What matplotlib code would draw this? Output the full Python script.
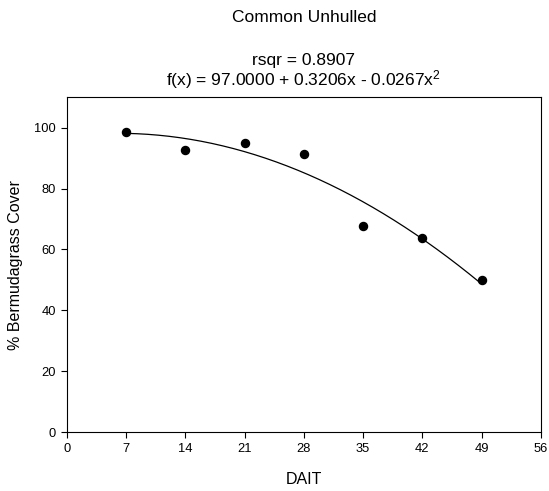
import matplotlib.pyplot as plt
import numpy as np

plt.rcParams['font.family'] = ['Liberation Sans', 'DejaVu Sans']
plt.rcParams['mathtext.fontset'] = 'custom'
plt.rcParams['mathtext.rm'] = 'Liberation Sans'
plt.rcParams['mathtext.it'] = 'Liberation Sans'

dait = np.array([7, 14, 21, 28, 35, 42, 49])
cover = np.array([98.7, 92.7, 95.1, 91.4, 67.7, 63.9, 50.1])
xticks = [0, 7, 14, 21, 28, 35, 42, 49, 56]
yticks = [0, 20, 40, 60, 80, 100]

# quadratic regression through the points
coef = np.polyfit(dait, cover, 2)
xs = np.linspace(dait.min(), dait.max(), 200)
ys = np.polyval(coef, xs)

W, H = 549, 491
fig = plt.figure(figsize=(W / 100, H / 100), dpi=100)
ax = fig.add_axes([0.122, 0.120, 0.863, 0.682])

ax.plot(xs, ys, color="black", lw=0.9, zorder=1)
ax.plot(dait, cover, "o", color="black", ms=5.8, zorder=2)

ax.set_xlim(0, 56)
ax.set_ylim(0, 110)
ax.set_xticks(xticks)
ax.set_yticks(yticks)
ax.tick_params(direction="out", length=4, width=0.8, labelsize=9.3, pad=4)
for s in ax.spines.values():
    s.set_linewidth(0.8)

cx = 0.5 * (0.122 + 0.985)
fig.text(cx, 1 - 484 / H, "DAIT", ha="center", va="baseline", fontsize=11.5)
fig.text(16 / W, 0.5 * (0.120 + 0.802), "% Bermudagrass Cover", ha="center", va="center",
         rotation=90, fontsize=11.5)

fig.text(cx, 1 - 22 / H, "Common Unhulled", ha="center", va="baseline", fontsize=12.5)
fig.text(cx, 1 - 65 / H, "rsqr = 0.8907", ha="center", va="baseline", fontsize=12.5)
fig.text(cx, 1 - 85 / H, r"f(x) = 97.0000 + 0.3206x - 0.0267x$^2$",
         ha="center", va="baseline", fontsize=12.5)

plt.savefig("out.png", dpi=100)
